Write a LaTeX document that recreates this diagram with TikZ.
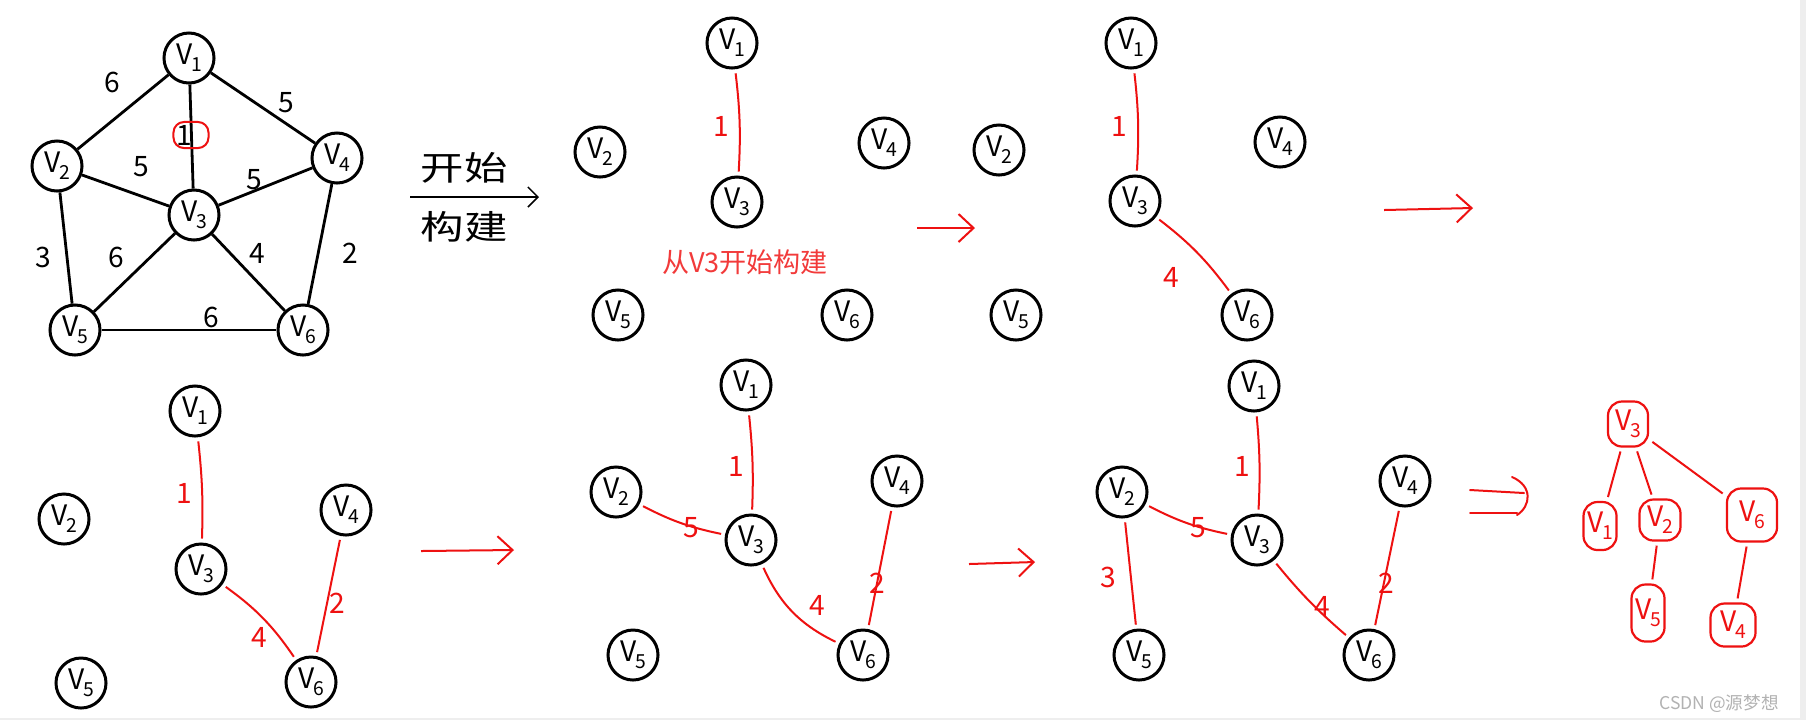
\documentclass[tikz,border=0pt]{standalone}
\usepackage{fontspec}
\setmainfont{Noto Sans CJK SC}
\usepackage{xcolor}
\usepackage{graphicx}
\usetikzlibrary{arrows.meta}
\definecolor{pen}{HTML}{EE1111}
\definecolor{note}{HTML}{F23A3A}
\definecolor{frame}{HTML}{EEEEEE}
\newcommand{\vname}[1]{V\kern-.3pt\raisebox{-.45ex}{\fontsize{5.5}{6}\selectfont #1}}
\tikzset{vtx/.style={circle,draw,line width=.03cm,minimum size=.5cm,inner sep=0pt,
  font=\fontsize{8}{9}\selectfont},
  tvtx/.style={draw=pen,text=pen,line width=.022cm,rounded corners=4pt,inner sep=0pt,
  font=\fontsize{8}{9}\selectfont},
  edge/.style={line width=.028cm},
  pick/.style={draw=pen,line width=.02cm,shorten <=.04cm,shorten >=.04cm},
  wt/.style={font=\fontsize{8}{9}\selectfont,inner sep=0pt},
  rwt/.style={wt,text=pen},
  flow/.style={draw=pen,line width=.02cm,-{Straight Barb[length=.15cm,width=.28cm]}},
  pen stroke/.style={draw=pen,line width=.02cm,line cap=round}}
\begin{document}
\begin{tikzpicture}[x=.01cm,y=-.01cm]
\fill[frame] (0,0) rectangle (1806,720);
\fill[white] (0,0) rectangle (1800,718);
\useasboundingbox (0,0) rectangle (1806,720);
% weighted graph
\node[vtx] (a1) at (189,58) {\vname{1}};
\node[vtx] (a2) at (57,166) {\vname{2}};
\node[vtx] (a3) at (194,215) {\vname{3}};
\node[vtx] (a4) at (337,158) {\vname{4}};
\node[vtx] (a5) at (75,330) {\vname{5}};
\node[vtx] (a6) at (303,330) {\vname{6}};
\draw[edge] (a1) -- (a2);
\draw[edge] (a1) -- (a3);
\draw[edge] (a1) -- (a4);
\draw[edge] (a2) -- (a3);
\draw[edge] (a2) -- (a5);
\draw[edge] (a3) -- (a4);
\draw[edge] (a3) -- (a5);
\draw[edge] (a3) -- (a6);
\draw[edge] (a4) -- (a6);
\draw[edge] (a5) -- (a6);
\node[wt] (wa12) at (112,82) {6};
\node[wt] (wa14) at (286,103) {5};
\node[wt,draw=pen,rounded corners=3pt,line width=.02cm,inner sep=.03cm,
  text width=.29cm,minimum height=.26cm,align=left] (wa13) at (191,135) {1};
\node[wt] (wa23) at (141,167) {5};
\node[wt] (wa34) at (254,180) {5};
\node[wt] (wa25) at (43,257) {3};
\node[wt] (wa35) at (116,257) {6};
\node[wt] (wa36) at (257,253) {4};
\node[wt] (wa46) at (350,253) {2};
\node[wt] (wa56) at (211,317) {6};
\coordinate (go0s) at (410,197);
\coordinate (go0e) at (539,197);
\draw[line width=.015cm,-{Straight Barb[length=.1cm,width=.2cm]}] (go0s) -- (go0e);
\node[font=\fontsize{9.5}{10}\selectfont] (kaishi) at (464,168) {\scalebox{1.3}[1]{开始}};
\node[font=\fontsize{9.5}{10}\selectfont] (goujian) at (464,227) {\scalebox{1.3}[1]{构建}};
% step one
\node[vtx] (b1) at (732,43) {\vname{1}};
\node[vtx] (b2) at (600,152) {\vname{2}};
\node[vtx] (b3) at (737,202) {\vname{3}};
\node[vtx] (b4) at (884,143) {\vname{4}};
\node[vtx] (b5) at (618,315) {\vname{5}};
\node[vtx] (b6) at (847,315) {\vname{6}};
\draw[pick] (b1) to[bend left=5] (b3);
\node[rwt] (wb13) at (721,126) {1};
\node[text=note,font=\fontsize{7.7}{8}\selectfont] (start) at (745,262) {从V3开始构建};
\coordinate (go1s) at (917,228);
\coordinate (go1e) at (975,228);
\draw[flow] (go1s) -- (go1e);
% step two
\node[vtx] (c1) at (1131,43) {\vname{1}};
\node[vtx] (c2) at (999,150) {\vname{2}};
\node[vtx] (c3) at (1135,201) {\vname{3}};
\node[vtx] (c4) at (1280,142) {\vname{4}};
\node[vtx] (c5) at (1016,315) {\vname{5}};
\node[vtx] (c6) at (1247,315) {\vname{6}};
\draw[pick] (c1) to[bend left=5] (c3);
\draw[pick] (c3) to[bend left=8] (c6);
\node[rwt] (wc13) at (1119,126) {1};
\node[rwt] (wc36) at (1171,277) {4};
\coordinate (go2s) at (1384,210);
\coordinate (go2e) at (1473,208);
\draw[flow] (go2s) -- (go2e);
% step three
\node[vtx] (d1) at (195,411) {\vname{1}};
\node[vtx] (d2) at (64,519) {\vname{2}};
\node[vtx] (d3) at (201,569) {\vname{3}};
\node[vtx] (d4) at (346,510) {\vname{4}};
\node[vtx] (d5) at (81,683) {\vname{5}};
\node[vtx] (d6) at (311,682) {\vname{6}};
\draw[pick] (d1) to[bend left=4] (d3);
\draw[pick] (d3) to[bend left=10] (d6);
\draw[pick] (d6) -- (d4);
\node[rwt] (wd13) at (184,493) {1};
\node[rwt] (wd36) at (259,637) {4};
\node[rwt] (wd46) at (337,603) {2};
\coordinate (go3s) at (421,551);
\coordinate (go3e) at (514,550);
\draw[flow] (go3s) -- (go3e);
% step four
\node[vtx] (e1) at (746,385) {\vname{1}};
\node[vtx] (e2) at (616,492) {\vname{2}};
\node[vtx] (e3) at (751,540) {\vname{3}};
\node[vtx] (e4) at (897,481) {\vname{4}};
\node[vtx] (e5) at (633,655) {\vname{5}};
\node[vtx] (e6) at (863,655) {\vname{6}};
\draw[pick] (e1) to[bend left=4] (e3);
\draw[pick] (e2) to[bend right=8] (e3);
\draw[pick] (e3) to[bend right=20] (e6);
\draw[pick] (e6) -- (e4);
\node[rwt] (we13) at (736,466) {1};
\node[rwt] (we23) at (691,528) {5};
\node[rwt] (we36) at (817,605) {4};
\node[rwt] (we46) at (877,583) {2};
\coordinate (go4s) at (969,564);
\coordinate (go4e) at (1035,562);
\draw[flow] (go4s) -- (go4e);
% step five
\node[vtx] (f1) at (1254,386) {\vname{1}};
\node[vtx] (f2) at (1122,492) {\vname{2}};
\node[vtx] (f3) at (1257,540) {\vname{3}};
\node[vtx] (f4) at (1405,481) {\vname{4}};
\node[vtx] (f5) at (1139,655) {\vname{5}};
\node[vtx] (f6) at (1369,655) {\vname{6}};
\draw[pick] (f1) to[bend left=4] (f3);
\draw[pick] (f2) to[bend right=8] (f3);
\draw[pick] (f2) -- (f5);
\draw[pick] (f3) to[bend right=5] (f6);
\draw[pick] (f6) -- (f4);
\node[rwt] (wf13) at (1242,466) {1};
\node[rwt] (wf23) at (1198,528) {5};
\node[rwt] (wf25) at (1108,577) {3};
\node[rwt] (wf36) at (1322,606) {4};
\node[rwt] (wf46) at (1386,583) {2};
\coordinate (go5a) at (1470,490);
\coordinate (go5b) at (1524,493);
\coordinate (go5c) at (1470,513);
\coordinate (go5d) at (1517,513);
\coordinate (go5t) at (1512,477);
\coordinate (go5u) at (1517,515);
\draw[pen stroke] (go5a) -- (go5b);
\draw[pen stroke] (go5c) -- (go5d);
\draw[pen stroke] (go5t) .. controls (1533,486) and (1531,506) .. (go5u);
% resulting tree
\node[tvtx,minimum width=.4cm,minimum height=.45cm] (t3) at (1628,424) {\vname{3}};
\node[tvtx,minimum width=.33cm,minimum height=.48cm] (t1) at (1600,526) {\vname{1}};
\node[tvtx,minimum width=.41cm,minimum height=.41cm] (t2) at (1660,520) {\vname{2}};
\node[tvtx,minimum width=.5cm,minimum height=.53cm] (t6) at (1752,515) {\vname{6}};
\node[tvtx,minimum width=.33cm,minimum height=.57cm] (t5) at (1648,613) {\vname{5}};
\node[tvtx,minimum width=.45cm,minimum height=.43cm] (t4) at (1733,625) {\vname{4}};
\draw[pick] (t3) -- (t1);
\draw[pick] (t3) -- (t2);
\draw[pick] (t3) -- (t6);
\draw[pick] (t2) -- (t5);
\draw[pick] (t6) -- (t4);
\node[text=gray!60,font=\fontsize{5}{6}\selectfont,anchor=east] (mark) at (1791,704) {CSDN @源梦想};
\end{tikzpicture}
\end{document}
